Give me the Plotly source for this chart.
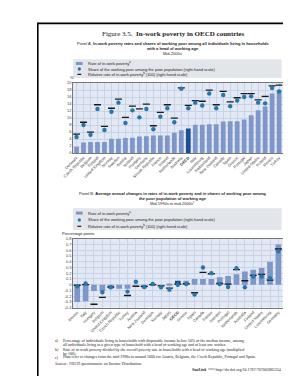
import plotly.graph_objects as go

# ---------------- Data ----------------
countries_a = ["Denmark", "Czech Republic", "Belgium", "Finland", "United Kingdom", "Norway",
               "Sweden", "Austria", "Iceland", "Hungary", "Germany", "Slovak Republic", "France",
               "Ireland", "Netherlands", "Australia", "<b>OECD</b>", "Italy", "Luxembourg",
               "Switzerland", "New Zealand", "Canada", "Spain", "Greece", "Portugal", "Japan",
               "United States", "Poland", "Mexico", "Turkey"]
rate_a = [1.8, 3.0, 3.2, 3.2, 3.2, 4.1, 4.1, 4.3, 4.4, 4.7, 4.8, 5.0, 5.0, 5.0, 5.8,
          6.5, 7.0, 8.1, 8.1, 8.2, 8.2, 9.0, 9.1, 9.1, 9.6, 10.8, 12.2, 13.3, 17.0, 17.8]
share_a = [23, 40, 26, 63, 33, 59, 72, 43, 61, 51, 63, 34, 52, 64, 44,
           92, 64, 72, 68, 85, 64, 83, 67, 75, 80, 81, 72, 71, 93, 88]
relative_a = [27, 44, 30, 69, 38, 64, 77, 51, 67, 63, 70, 39, 58, 69, 50,
              93, 68, 75, 74, 90, 69, 88, 73, 79, 85, 85, 76, 81, 96, 97]

countries_b = ["Mexico", "Italy", "Hungary", "Belgium", "United Kingdom", "Czech Republic",
               "Turkey", "Austria", "New Zealand", "Denmark", "Norway", "Japan", "<b>OECD</b>",
               "Greece", "Spain", "Canada", "France", "Sweden", "Portugal", "Netherlands",
               "Australia", "Finland", "United States", "Luxembourg", "Germany"]
rate_b = [-0.30, -0.29, -0.11, -0.11, -0.07, -0.07, -0.07, -0.04, -0.06, -0.01, -0.01, 0.02,
          0.07, 0.07, 0.10, 0.10, 0.10, 0.13, 0.15, 0.18, 0.23, 0.26, 0.29, 0.40, 0.70]
share_b = [-0.15, 0.10, None, -0.66, -0.23, None, -0.60, 0.26, -0.20, 0.06, -0.23, -0.43,
           0.00, 0.06, -0.86, 1.49, 1.00, 0.06, -0.20, 1.43, -0.23, 0.71, 0.71, 0.57, 2.90]
relative_b = [-0.05, 0.00, -1.70, -1.10, -0.20, None, -0.94, -0.14, -0.15, 0.00, -0.10, -0.30,
              0.05, 0.08, -0.70, 1.06, 0.95, 0.10, 0.05, 1.30, 0.34, 0.80, 0.90, 0.40, 3.10]

ticks_a_left = [0, 2, 4, 6, 8, 10, 12, 14, 16, 18, 20]
ticks_a_right = [0, 10, 20, 30, 40, 50, 60, 70, 80, 90, 100]
ticks_b_left = [-0.4, -0.3, -0.2, -0.1, 0, 0.1, 0.2, 0.3, 0.4, 0.5, 0.6, 0.7, 0.8]
ticks_b_left_txt = ["-0.4", "-0.3", "-0.2", "-0.1", "0", "0.1", "0.2", "0.3", "0.4", "0.5", "0.6", "0.7", "0.8"]
ticks_b_right = [-2.0, -1.5, -1.0, -0.5, 0, 0.5, 1.0, 1.5, 2.0, 2.5, 3.0, 3.5, 4.0]
ticks_b_right_txt = ["-2.0", "-1.5", "-1.0", "-0.5", "0", "0.5", "1.0", "1.5", "2.0", "2.5", "3.0", "3.5", "4.0"]

# ---------------- Styling ----------------
W, H = 291, 376
BAR = "#7f96c9"
BAR_OECD = "#1d4f97"
CIRC = "#2777aa"
DASH = "#1a1a1a"
PLOTBG = "#e3e9f4"
GRID = "#c8d3e6"
SANS = "Liberation Sans, Arial, sans-serif"
SERIF = "Liberation Serif, Times New Roman, serif"


def px(x):
    return x / W


def py(y):
    return 1 - y / H


fig = go.Figure()

# Panel A
fig.add_trace(go.Bar(x=countries_a, y=rate_a, xaxis="x", yaxis="y", width=0.68,
                     marker=dict(color=[BAR_OECD if "OECD" in c else BAR for c in countries_a], line=dict(width=0))))
fig.add_trace(go.Scatter(x=countries_a, y=relative_a, xaxis="x", yaxis="y2", mode="markers",
                         marker=dict(symbol="line-ew", size=5, line=dict(width=1.3, color=DASH))))
fig.add_trace(go.Scatter(x=countries_a, y=share_a, xaxis="x", yaxis="y2", mode="markers",
                         marker=dict(symbol="circle", size=4.4, color=CIRC, line=dict(width=0))))

# Panel B
fig.add_trace(go.Bar(x=countries_b, y=rate_b, xaxis="x2", yaxis="y3", width=0.68,
                     marker=dict(color=[BAR_OECD if "OECD" in c else BAR for c in countries_b], line=dict(width=0))))
fig.add_trace(go.Scatter(x=countries_b, y=relative_b, xaxis="x2", yaxis="y4", mode="markers",
                         marker=dict(symbol="line-ew", size=5, line=dict(width=1.3, color=DASH))))
fig.add_trace(go.Scatter(x=countries_b, y=share_b, xaxis="x2", yaxis="y4", mode="markers",
                         marker=dict(symbol="circle", size=4.4, color=CIRC, line=dict(width=0))))

tickfont = dict(size=4, family=SANS, color="#444")
xdom = [px(57), px(274)]
axis_common = dict(showline=True, linecolor="#777", linewidth=0.6, mirror=True,
                   gridcolor=GRID, gridwidth=0.4, ticks="", tickfont=tickfont, zeroline=False)

fig.update_layout(
    width=W, height=H, autosize=False,
    margin=dict(l=0, r=0, t=0, b=0),
    paper_bgcolor="white", plot_bgcolor=PLOTBG,
    showlegend=False, bargap=0.3,
    xaxis=dict(domain=xdom, anchor="y", tickangle=-45, range=[-0.5, len(countries_a) - 0.5],
               showgrid=True, **axis_common),
    yaxis=dict(domain=[py(144), py(73)], anchor="x", range=[0, 20], tickvals=ticks_a_left,
               showgrid=True, **axis_common),
    yaxis2=dict(overlaying="y", side="right", anchor="x", range=[0, 100], tickvals=ticks_a_right,
                showgrid=False, tickfont=tickfont, ticks="", zeroline=False),
    xaxis2=dict(domain=xdom, anchor="y3", tickangle=-45, range=[-0.5, len(countries_b) - 0.5],
                showgrid=True, **axis_common),
    yaxis3=dict(domain=[py(300.7), py(230.7)], anchor="x2", range=[-0.4, 0.8],
                tickvals=ticks_b_left, ticktext=ticks_b_left_txt, showgrid=True, **axis_common),
    yaxis4=dict(overlaying="y3", side="right", anchor="x2", range=[-2.0, 4.0],
                tickvals=ticks_b_right, ticktext=ticks_b_right_txt, showgrid=False,
                tickfont=tickfont, ticks="", zeroline=False),
)

shapes = []
annotations = []


def text(x, y, s, size=4.2, xanchor="left", family=SANS, color="#222"):
    annotations.append(dict(x=px(x), y=py(y), xref="paper", yref="paper", text=s, showarrow=False,
                            xanchor=xanchor, yanchor="middle", font=dict(size=size, family=family, color=color)))


# Page frame
shapes.append(dict(type="line", xref="paper", yref="paper", x0=px(20), x1=1.0, y0=py(12.5), y1=py(12.5),
                   line=dict(color="black", width=1.6)))
shapes.append(dict(type="line", xref="paper", yref="paper", x0=px(20.5), x1=px(20.5), y0=py(12), y1=0,
                   line=dict(color="black", width=1.6)))

# Titles
text(160, 23, "Figure 3.5.  <b>In-work poverty in OECD countries</b>", size=7, xanchor="center", family=SERIF)
text(160, 33, "Panel A. <b>In-work poverty rates and shares of working poor among all individuals living in households</b>",
     size=4, xanchor="center")
text(160, 38, "<b>with a head of working age</b>", size=4, xanchor="center")
text(160, 43, "Mid-2000s", size=4, xanchor="center")

text(160, 185, "Panel B. <b>Average annual changes in rates of in-work poverty and in shares of working poor among</b>",
     size=4, xanchor="center")
text(160, 190, "<b>the poor population of working age</b>", size=4, xanchor="center")
text(160, 195, "Mid-1990s to mid-2000s<sup>c</sup>", size=4, xanchor="center")


def legend_box(y0, y1, ys):
    shapes.append(dict(type="rect", xref="paper", yref="paper", x0=px(57), x1=px(273), y0=py(y1), y1=py(y0),
                       fillcolor="#e2e5ea", line=dict(width=0), layer="below"))
    shapes.append(dict(type="rect", xref="paper", yref="paper", x0=px(60), x1=px(67),
                       y0=py(ys[0] + 1.5), y1=py(ys[0] - 1.5), fillcolor=BAR, line=dict(width=0)))
    shapes.append(dict(type="circle", xref="paper", yref="paper", x0=px(61.8), x1=px(65.2),
                       y0=py(ys[1] + 1.7), y1=py(ys[1] - 1.7), fillcolor=CIRC, line=dict(width=0)))
    shapes.append(dict(type="line", xref="paper", yref="paper", x0=px(61.5), x1=px(65.5),
                       y0=py(ys[2]), y1=py(ys[2]), line=dict(color=DASH, width=1.2)))
    text(70, ys[0], "Rate of in-work poverty<sup>a</sup>", size=4)
    text(70, ys[1], "Share of the working poor among the poor population (right-hand scale)", size=4)
    text(70, ys[2], "Relative rate of in-work poverty<sup>b</sup> (100) (right-hand scale)", size=4)


legend_box(49, 68, [53.2, 58.8, 64.2])
legend_box(200, 222, [204.8, 211.8, 218.2])

# Axis unit labels
text(52, 67, "%", size=4)
text(278, 67, "%", size=4)
text(43, 226, "Percentage points", size=4)
text(278, 227, "%", size=4)

# Footnotes
fn = 4
text(36, 334, "a)", size=fn, family=SERIF)
text(45, 334, "Percentage of individuals living in households with disposable income below 50% of the median income, among", size=fn, family=SERIF)
text(45, 338.3, "all individuals living in a given type of household with a head of working age and at least one worker.", size=fn, family=SERIF)
text(36, 342.7, "b)", size=fn, family=SERIF)
text(45, 342.7, "Rate of in-work poverty divided by the overall poverty rate in households with a head of working age (multiplied", size=fn, family=SERIF)
text(45, 346.9, "by 100).", size=fn, family=SERIF)
text(36, 351.1, "c)", size=fn, family=SERIF)
text(45, 351.1, "Data refer to changes from the mid-1990s to around 2000 for Austria, Belgium, the Czech Republic, Portugal and Spain.", size=fn, family=SERIF)
text(36, 356.8, "<i>Source:</i>  OECD questionnaire on Income Distribution.", size=fn, family=SERIF)
text(274, 363, "<b><i>StatLink</i></b>  <b>~~~</b> http://dx.doi.org/10.1787/707003885334", size=fn, xanchor="right", family=SERIF)

fig.update_layout(shapes=shapes, annotations=annotations)
fig.write_html("out.html")
